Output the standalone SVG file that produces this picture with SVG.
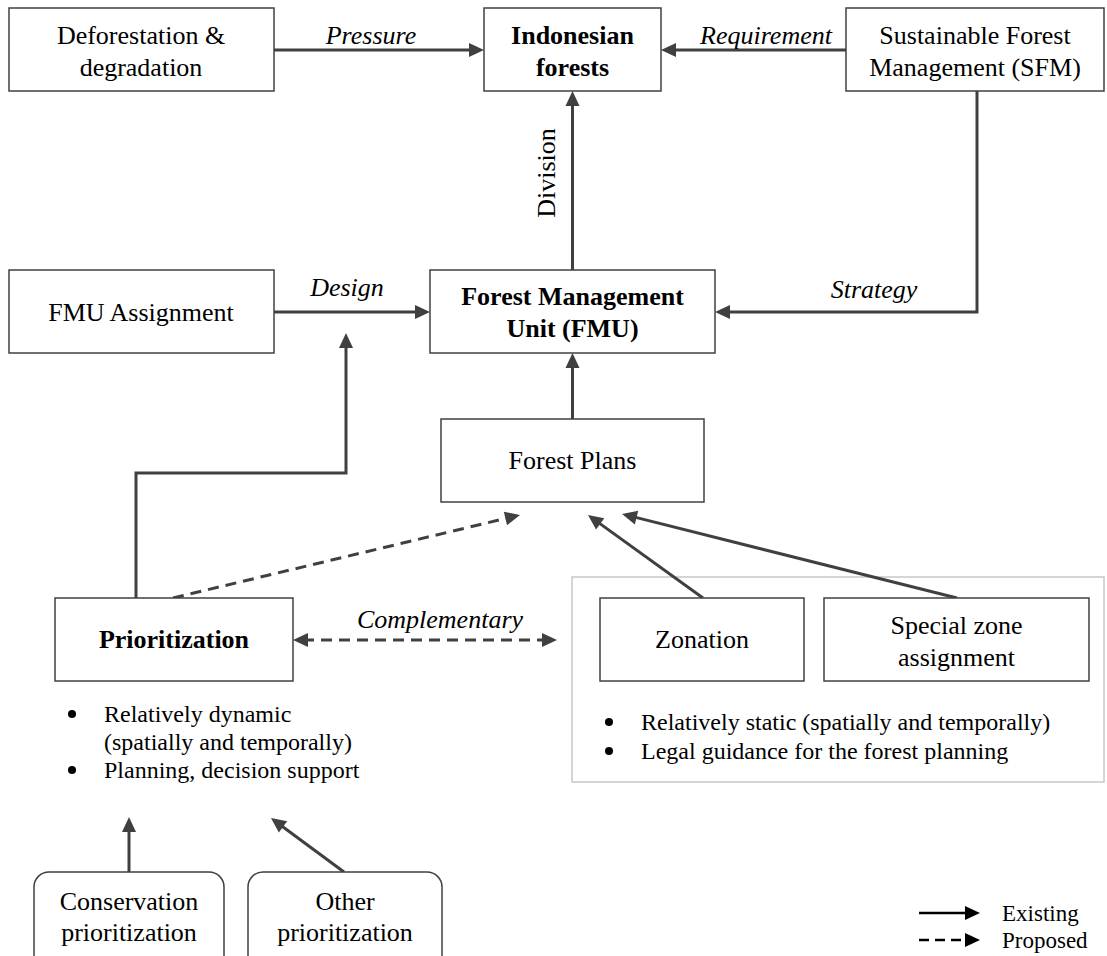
<svg xmlns="http://www.w3.org/2000/svg" width="1107" height="956" viewBox="0 0 1107 956">
<style>
  text { font-family: "Liberation Serif", "Times New Roman", serif; fill: #000; }
  .t { font-size: 26px; text-anchor: middle; }
  .b { font-weight: bold; }
  .lbl { font-size: 26px; font-style: italic; text-anchor: middle; }
  .bul { font-size: 24px; }
  .dot { fill: #000; }
  .box { fill: #fff; stroke: #404040; stroke-width: 1.5; }
  .grp { fill: none; stroke: #c8c8c8; stroke-width: 1.5; }
  .c { fill: none; stroke: #404040; stroke-width: 3; }
  .d { stroke-dasharray: 11 7; }
  .lg { fill: none; stroke: #000; stroke-width: 2.5; }
  .leg { font-size: 23px; }
</style>
<defs>
  <marker id="ah" markerUnits="userSpaceOnUse" markerWidth="16" markerHeight="15" refX="5" refY="7" orient="auto-start-reverse" overflow="visible">
    <path d="M0,0 L15,7 L0,14 z" fill="#404040"/>
  </marker>
  <marker id="ahk" markerUnits="userSpaceOnUse" markerWidth="16" markerHeight="15" refX="5" refY="7" orient="auto" overflow="visible">
    <path d="M0,0 L15,7 L0,14 z" fill="#000"/>
  </marker>
</defs>

<rect id="zone-group" class="grp" x="572" y="577" width="532" height="205"/>

<g id="connectors">
  <path class="c" d="M274,50 L474,50" marker-end="url(#ah)"/>
  <path class="c" d="M846,50 L671,50" marker-end="url(#ah)"/>
  <path class="c" d="M572.5,270 L572.5,101" marker-end="url(#ah)"/>
  <path class="c" d="M274,312 L420,312" marker-end="url(#ah)"/>
  <path class="c" d="M977,91 L977,312 L725,312" marker-end="url(#ah)"/>
  <path class="c" d="M572.5,419 L572.5,363" marker-end="url(#ah)"/>
  <path class="c" d="M136,598 L136,473 L346,473 L346,343" marker-end="url(#ah)"/>
  <path class="c d" d="M173,598 L510.3,517.3" marker-end="url(#ah)"/>
  <path class="c" d="M703,598 L596.1,520.9" marker-end="url(#ah)"/>
  <path class="c" d="M957,598 L631.7,516.4" marker-end="url(#ah)"/>
  <path class="c d" d="M303,640 L547,640" marker-start="url(#ah)" marker-end="url(#ah)"/>
  <path class="c" d="M129,872 L129,827" marker-end="url(#ah)"/>
  <path class="c" d="M344,872 L279,824" marker-end="url(#ah)"/>
  <text class="lbl" x="371" y="44">Pressure</text>
  <text class="lbl" x="766" y="44">Requirement</text>
  <text class="t" transform="translate(555,173) rotate(-90)">Division</text>
  <text class="lbl" x="347" y="296">Design</text>
  <text class="lbl" x="874" y="298">Strategy</text>
  <text class="lbl" x="440" y="628">Complementary</text>
</g>

<g id="deforestation">
  <rect class="box" x="9" y="8" width="265" height="83"/>
  <text class="t" x="141" y="44">Deforestation &amp;</text>
  <text class="t" x="141" y="76">degradation</text>
</g>
<g id="indonesian-forests">
  <rect class="box" x="484" y="8" width="177" height="83"/>
  <text class="t b" x="572.5" y="44">Indonesian</text>
  <text class="t b" x="572.5" y="76">forests</text>
</g>
<g id="sfm">
  <rect class="box" x="846" y="8" width="258" height="83"/>
  <text class="t" x="975" y="44">Sustainable Forest</text>
  <text class="t" x="975" y="76">Management (SFM)</text>
</g>
<g id="fmu-assignment">
  <rect class="box" x="9" y="270" width="265" height="83"/>
  <text class="t" x="141" y="321">FMU Assignment</text>
</g>
<g id="fmu">
  <rect class="box" x="430" y="270" width="285" height="83"/>
  <text class="t b" x="572.5" y="305">Forest Management</text>
  <text class="t b" x="572.5" y="337">Unit (FMU)</text>
</g>
<g id="forest-plans">
  <rect class="box" x="441" y="419" width="263" height="83"/>
  <text class="t" x="572.5" y="469">Forest Plans</text>
</g>
<g id="prioritization">
  <rect class="box" x="55" y="598" width="238" height="83"/>
  <text class="t b" x="174" y="648">Prioritization</text>
  <circle class="dot" cx="72" cy="714" r="4"/>
  <text class="bul" x="104" y="722">Relatively dynamic</text>
  <text class="bul" x="104" y="750">(spatially and temporally)</text>
  <circle class="dot" cx="72" cy="770" r="4"/>
  <text class="bul" x="104" y="778">Planning, decision support</text>
</g>
<g id="zonation">
  <rect class="box" x="600" y="598" width="204" height="83"/>
  <text class="t" x="702" y="648">Zonation</text>
</g>
<g id="special-zone">
  <rect class="box" x="824" y="598" width="265" height="83"/>
  <text class="t" x="956.5" y="634">Special zone</text>
  <text class="t" x="956.5" y="666">assignment</text>
</g>
<g id="zone-notes">
  <circle class="dot" cx="609" cy="722" r="4"/>
  <text class="bul" x="641" y="730">Relatively static (spatially and temporally)</text>
  <circle class="dot" cx="609" cy="751" r="4"/>
  <text class="bul" x="641" y="759">Legal guidance for the forest planning</text>
</g>
<g id="conservation-prioritization">
  <rect class="box" x="34" y="872" width="190" height="100" rx="15"/>
  <text class="t" x="129" y="910">Conservation</text>
  <text class="t" x="129" y="941">prioritization</text>
</g>
<g id="other-prioritization">
  <rect class="box" x="248" y="872" width="194" height="100" rx="15"/>
  <text class="t" x="345" y="910">Other</text>
  <text class="t" x="345" y="941">prioritization</text>
</g>
<g id="legend">
  <path class="lg" d="M919,913 L970,913" marker-end="url(#ahk)"/>
  <path class="lg" d="M919,940 L970,940" stroke-dasharray="10 6" marker-end="url(#ahk)"/>
  <text class="leg" x="1002" y="921">Existing</text>
  <text class="leg" x="1002" y="948">Proposed</text>
</g>
</svg>
